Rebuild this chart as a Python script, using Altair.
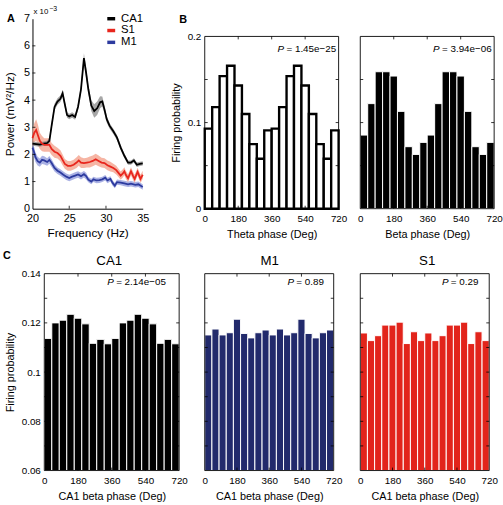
import altair as alt
import pandas as pd

FONT = "Liberation Sans"

# ---------------- Panel A: LFP power spectra (x 1e-3 mV^2/Hz), mean and s.e.m.
regions = ["CA1", "S1", "M1"]
line_colors = ["#000000", "#e8261d", "#2d3b9f"]
band_colors = ["#8a8a8a", "#f39c86", "#8f98db"]

ca1_freq = [20.0, 20.5, 21.0, 21.5, 22.0, 22.3, 22.6, 23.0, 23.4, 23.8, 24.1, 24.4, 24.7,
            25.0, 25.4, 25.8, 26.2, 26.6, 27.0, 27.3, 27.6, 28.0, 28.4, 28.8, 29.2, 29.5,
            29.8, 30.1, 30.5, 31.0, 31.5, 32.0, 32.5, 33.0, 33.4, 33.8, 34.2, 34.6, 35.0]
ca1_power = [2.4, 2.38, 2.36, 2.4, 2.42, 2.5, 3.05, 3.75, 3.95, 4.05, 4.25, 3.85, 3.45,
             3.4, 3.45, 3.38, 3.75, 4.4, 5.55, 5.0, 4.4, 3.8, 3.6, 3.7, 3.92, 3.95,
             3.65, 3.3, 3.05, 2.85, 2.62, 2.25, 1.95, 1.7, 1.7, 1.78, 1.62, 1.65, 1.67]
ca1_sem = [0.08, 0.08, 0.08, 0.08, 0.08, 0.1, 0.12, 0.12, 0.12, 0.12, 0.12, 0.12, 0.1,
           0.1, 0.1, 0.1, 0.12, 0.15, 0.18, 0.18, 0.15, 0.2, 0.25, 0.25, 0.22, 0.18,
           0.15, 0.12, 0.1, 0.1, 0.1, 0.1, 0.08, 0.08, 0.08, 0.08, 0.08, 0.08, 0.08]

s1_freq = [20.0, 20.25, 20.5, 20.75, 21.0, 21.3, 21.6, 22.0, 22.3, 22.6, 23.0, 23.4, 23.8,
           24.1, 24.4, 24.8, 25.2, 25.6, 26.0, 26.3, 26.6, 27.0, 27.4, 27.8, 28.2, 28.6,
           29.0, 29.4, 29.8, 30.2, 30.6, 31.0, 31.4, 31.7, 32.0, 32.3, 32.5, 32.7, 33.0,
           33.4, 33.7, 33.9, 34.3, 34.7, 35.0]
s1_power = [2.6, 2.8, 2.9, 2.7, 2.5, 2.4, 2.35, 2.35, 2.35, 2.2, 2.1, 2.05, 1.95,
            1.8, 1.65, 1.58, 1.58, 1.62, 1.7, 1.78, 1.7, 1.68, 1.7, 1.72, 1.76, 1.82,
            1.76, 1.7, 1.68, 1.6, 1.55, 1.5, 1.42, 1.32, 1.22, 1.3, 1.38, 1.25, 1.12,
            1.38, 1.2, 1.1, 1.36, 1.1, 1.25]
s1_sem = [0.3, 0.35, 0.4, 0.38, 0.3, 0.28, 0.25, 0.25, 0.25, 0.22, 0.22, 0.2, 0.2,
          0.2, 0.18, 0.18, 0.18, 0.18, 0.2, 0.2, 0.2, 0.18, 0.18, 0.2, 0.2, 0.2,
          0.2, 0.18, 0.18, 0.18, 0.18, 0.16, 0.16, 0.15, 0.15, 0.15, 0.15, 0.15, 0.15,
          0.15, 0.15, 0.15, 0.15, 0.15, 0.15]

m1_freq = [20.0, 20.2, 20.4, 20.7, 21.0, 21.3, 21.6, 22.0, 22.3, 22.6, 23.0, 23.4, 23.8,
           24.2, 24.6, 25.0, 25.4, 25.8, 26.2, 26.6, 27.0, 27.3, 27.6, 28.0, 28.3, 28.7,
           29.1, 29.5, 29.9, 30.2, 30.6, 30.9, 31.2, 31.5, 32.0, 32.5, 33.0, 33.4, 34.0,
           34.4, 35.0]
m1_power = [2.25, 2.1, 1.9, 1.75, 1.7, 1.8, 1.78, 1.72, 1.8, 1.68, 1.5, 1.4, 1.33,
            1.25, 1.18, 1.13, 1.18, 1.22, 1.26, 1.2, 1.27, 1.2, 1.07, 1.0, 1.08, 1.04,
            1.05, 1.08, 1.14, 1.04, 1.1, 0.95, 0.85, 0.98, 0.96, 0.93, 0.9, 0.92, 0.88,
            0.9, 0.8]
m1_sem = [0.2, 0.2, 0.18, 0.16, 0.15, 0.15, 0.15, 0.14, 0.14, 0.14, 0.13, 0.12, 0.12,
          0.12, 0.12, 0.12, 0.12, 0.12, 0.12, 0.12, 0.12, 0.12, 0.1, 0.1, 0.1, 0.1,
          0.1, 0.1, 0.1, 0.1, 0.1, 0.1, 0.1, 0.1, 0.1, 0.1, 0.1, 0.1, 0.1,
          0.1, 0.1]

# ---------------- Panels B and C: phase histograms, 40-degree bins over two cycles
phase_start = list(range(0, 720, 40))

theta_prob = [0.093, 0.118, 0.154, 0.166, 0.143, 0.110, 0.075, 0.058, 0.091,
              0.093, 0.118, 0.154, 0.166, 0.143, 0.110, 0.075, 0.058, 0.091]
beta_prob = [0.0855, 0.122, 0.159, 0.159, 0.154, 0.113, 0.072, 0.063, 0.077,
             0.0855, 0.122, 0.159, 0.159, 0.154, 0.113, 0.072, 0.063, 0.077]

ca1_beta_prob = [0.1137, 0.1200, 0.1211, 0.1235, 0.1219, 0.1196, 0.1117, 0.1133, 0.1115,
                 0.1137, 0.1200, 0.1211, 0.1235, 0.1219, 0.1196, 0.1117, 0.1133, 0.1115]
m1_beta_prob = [0.1151, 0.1175, 0.1151, 0.1160, 0.1215, 0.1157, 0.1139, 0.1160, 0.1171,
                0.1151, 0.1175, 0.1151, 0.1160, 0.1215, 0.1157, 0.1139, 0.1160, 0.1171]
s1_beta_prob = [0.1159, 0.1128, 0.1148, 0.1191, 0.1191, 0.1203, 0.1116, 0.1164, 0.1128,
                0.1159, 0.1128, 0.1148, 0.1191, 0.1191, 0.1203, 0.1116, 0.1164, 0.1128]

phase_ticks = [0, 180, 360, 540, 720]

TICK = 3  # inward tick length (px)


def label(txt, x, y, size, align="left", weight="normal", style="normal", color="black"):
    return alt.Chart(pd.DataFrame({"t": [txt]})).mark_text(
        font=FONT, fontSize=size, align=align, baseline="middle",
        fontWeight=weight, fontStyle=style, color=color,
    ).encode(text="t:N", x=alt.value(x), y=alt.value(y))


def p_value(txt, x, y):
    return [label("P", x, y, 10, style="italic"), label("= " + txt, x + 9, y, 10)]


# ---------------- Panel A
spec_rows = []
for name, fr, pw, se in [("CA1", ca1_freq, ca1_power, ca1_sem),
                         ("S1", s1_freq, s1_power, s1_sem),
                         ("M1", m1_freq, m1_power, m1_sem)]:
    for f, m, s in zip(fr, pw, se):
        spec_rows.append({"region": name, "f": f, "mean": m, "lo": m - s, "hi": m + s})
spec_df = pd.DataFrame(spec_rows)

a_xaxis = alt.Axis(values=[20, 25, 30, 35], title="Frequency (Hz)", labelFontSize=11,
                   titleFontSize=12, labelPadding=4, titlePadding=4, domain=True,
                   domainColor="black", domainWidth=1)
a_yaxis = alt.Axis(values=list(range(8)), title="Power (mV²/Hz)", labelFontSize=11,
                   titleFontSize=12, labelPadding=3, titlePadding=7, offset=12, domain=True,
                   domainColor="black", domainWidth=1)
a_xscale = alt.Scale(domain=[20, 35], range=[-12, 100], nice=False, zero=False)
a_yscale = alt.Scale(domain=[0, 7], nice=False)

a_x = alt.X("f:Q", scale=a_xscale, axis=a_xaxis)

# s.e.m. bands, one layer per region (M1 first so CA1's band sits on top)
band_layers = []
for name, col in [("M1", band_colors[2]), ("S1", band_colors[1]), ("CA1", band_colors[0])]:
    band_layers.append(
        alt.Chart(spec_df[spec_df["region"] == name]).mark_area(color=col, opacity=0.75).encode(
            x=a_x,
            y=alt.Y("lo:Q", scale=a_yscale, axis=a_yaxis),
            y2="hi:Q",
        )
    )

lines = alt.Chart(spec_df).mark_line(strokeWidth=1.8).encode(
    x=a_x,
    y=alt.Y("mean:Q", scale=a_yscale, axis=a_yaxis),
    color=alt.Color("region:N", scale=alt.Scale(domain=regions, range=line_colors),
                    legend=None),
)

# compact key in the top-right corner of the spectrum panel
key_layers = []
for i, (name, col) in enumerate(zip(regions, line_colors)):
    row_y = i * 12
    key_layers.append(
        alt.Chart(pd.DataFrame({"k": [name]})).mark_rule(color=col, strokeWidth=3.5).encode(
            x=alt.value(64), x2=alt.value(72), y=alt.value(row_y))
    )
    key_layers.append(label(name, 78, row_y, 11.5))

a_ticks_y = alt.Chart(pd.DataFrame({"mean": [1, 2, 3, 4, 5, 6]})).mark_rule(
    color="black", strokeWidth=0.8).encode(
    y=alt.Y("mean:Q", scale=a_yscale, axis=a_yaxis), x=alt.value(-12), x2=alt.value(-12 + TICK))
a_ticks_x = alt.Chart(pd.DataFrame({"f": [25, 30]})).mark_rule(
    color="black", strokeWidth=0.8).encode(
    x=a_x, y=alt.value(193 - TICK), y2=alt.value(193))

panel_a = alt.layer(
    *band_layers, lines, a_ticks_y, a_ticks_x, *key_layers,
    label("A", -34, 0, 11, align="center", weight="bold"),
    label("x 10", -11, -7, 8),
    label("−3", 5, -10, 7),
).properties(width=148, height=193)


# ---------------- Panels B and C
def phase_panel(probs, plot_w, ydom, yrange, y_lab, y_fmt, y_minor,
                xtitle, fill, stroke, stroke_w, ytitle, top):
    df = pd.DataFrame({"start": phase_start,
                       "end": [s + 40 for s in phase_start],
                       "p": probs,
                       "base": [ydom[0]] * len(probs)})
    box = pd.DataFrame({"start": [0], "end": [720], "p": [ydom[1]], "base": [ydom[0]]})
    xscale = alt.Scale(domain=[0, 720], range=[0, plot_w], nice=False, zero=False)
    yscale = alt.Scale(domain=ydom, range=yrange, nice=False, zero=False)
    xaxis = alt.Axis(values=phase_ticks, title=xtitle, labelFontSize=10, titleFontSize=11,
                     labelPadding=5, titlePadding=5, domain=False)
    x_enc = alt.X("start:Q", scale=xscale, axis=xaxis)
    if ytitle:
        yaxis = alt.Axis(values=y_lab, format=y_fmt, title=ytitle, labelFontSize=10,
                         titleFontSize=11, labelPadding=4, titlePadding=6, domain=False)
        y_enc = alt.Y("p:Q", scale=yscale, axis=yaxis)
    else:
        y_enc = alt.Y("p:Q", scale=yscale, axis=None)

    bars = alt.Chart(df).mark_rect(fill=fill, stroke=stroke, strokeWidth=stroke_w).encode(
        x=x_enc, x2="end:Q", y=y_enc, y2="base:Q")
    frame = alt.Chart(box).mark_rect(fill="transparent", stroke="black",
                                     strokeWidth=0.9).encode(
        x=x_enc, x2="end:Q", y=y_enc, y2="base:Q")

    rule = dict(color="black", strokeWidth=0.8)
    yt = alt.Chart(pd.DataFrame({"p": y_minor})).mark_rule(**rule)
    xt = alt.Chart(pd.DataFrame({"start": [180, 360, 540]})).mark_rule(**rule)
    bottom = yrange[0]
    ticks = [
        yt.encode(y=y_enc, x=alt.value(0), x2=alt.value(TICK)),
        yt.encode(y=y_enc, x=alt.value(plot_w - TICK), x2=alt.value(plot_w)),
        xt.encode(x=x_enc, y=alt.value(top), y2=alt.value(top + TICK)),
        xt.encode(x=x_enc, y=alt.value(bottom - TICK), y2=alt.value(bottom)),
    ]
    return [bars, frame] + ticks


# B: theta and beta phase of firing
b1 = alt.layer(
    *phase_panel(theta_prob, 136, [0, 0.2], [193, 18], [0, 0.1, 0.2], ".1~f",
                 [0.05, 0.1, 0.15], "Theta phase (Deg)", "white", "black", 2.4,
                 "Firing probability", 18),
    *p_value("1.45e−25", 74, 31),
    label("B", -22, 1, 11, align="center", weight="bold"),
).properties(width=136, height=193)

b2 = alt.layer(
    *phase_panel(beta_prob, 136, [0, 0.2], [193, 18], [0, 0.1, 0.2], ".1~f",
                 [0.05, 0.1, 0.15], "Beta phase (Deg)", "black", "white", 1.0,
                 None, 18),
    *p_value("3.94e−06", 74, 31),
).properties(width=136, height=193)

# C: firing relative to CA1 beta phase
c_minor = [0.07, 0.08, 0.09, 0.1, 0.11, 0.12, 0.13]
c_lab = [0.06, 0.08, 0.1, 0.12, 0.14]

c1 = alt.layer(
    *phase_panel(ca1_beta_prob, 137, [0.06, 0.14], [200, 0], c_lab, ".2~f",
                 c_minor, "CA1 beta phase (Deg)", "black", "white", 1.0,
                 "Firing probability", 0),
    *p_value("2.14e−05", 64, 9),
    label("CA1", 66, -13, 13.5, align="center"),
    label("C", -38, -18, 11, align="center", weight="bold"),
).properties(width=146, height=200)

c2 = alt.layer(
    *phase_panel(m1_beta_prob, 131, [0.06, 0.14], [200, 0], c_lab, ".2~f",
                 c_minor, "CA1 beta phase (Deg)", "#222a6c", "white", 1.0, None, 0),
    *p_value("0.89", 84, 9),
    label("M1", 66, -13, 13.5, align="center"),
).properties(width=143, height=200)

c3 = alt.layer(
    *phase_panel(s1_beta_prob, 131, [0.06, 0.14], [200, 0], c_lab, ".2~f",
                 c_minor, "CA1 beta phase (Deg)", "#e2241b", "white", 1.0, None, 0),
    *p_value("0.29", 83, 9),
    label("S1", 68, -13, 13.5, align="center"),
).properties(width=131, height=200)

chart = alt.concat(
    panel_a, b1, b2, c1, c2, c3,
    columns=3, spacing={"row": 66, "column": 15}, bounds="flush", align="none",
).properties(
    padding={"left": 3, "top": 1, "right": 0, "bottom": 0}
).configure_view(
    strokeWidth=0
).configure_axis(
    labelFont=FONT, titleFont=FONT, labelColor="black", titleColor="black",
    grid=False, ticks=False, labelFlush=False, titleFontWeight="normal",
    labelOverlap=False,
)

chart.save("out.html", embed_options={"renderer": "svg", "actions": False})
